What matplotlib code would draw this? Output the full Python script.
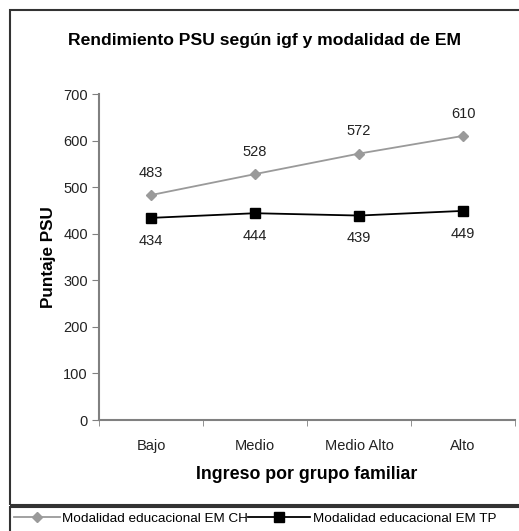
import matplotlib
matplotlib.use("Agg")
import matplotlib.pyplot as plt
from matplotlib.patches import Rectangle

plt.rcParams['font.family'] = ['Liberation Sans', 'DejaVu Sans']

# Data
categories = ["Bajo", "Medio", "Medio Alto", "Alto"]
em_ch = [483, 528, 572, 610]
em_tp = [434, 444, 439, 449]
series_names = ["Modalidad educacional EM CH", "Modalidad educacional EM TP"]

W, H = 519, 531
fig = plt.figure(figsize=(W / 100, H / 100), dpi=100)

# axes placed in pixel terms of the reference
ax = fig.add_axes([99 / W, 1 - 420 / H, (515 - 99) / W, (420 - 94) / H])

x = list(range(len(categories)))
ch_line, = ax.plot(x, em_ch, color="#9a9a9a", lw=1.3, marker="D", ms=5.5,
                   mfc="#9a9a9a", mec="#9a9a9a", label=series_names[0])
tp_line, = ax.plot(x, em_tp, color="black", lw=1.3, marker="s", ms=6.5,
                   mfc="black", mec="black", label=series_names[1])

for xi, v in zip(x, em_ch):
    ax.annotate(str(v), (xi, v), xytext=(0, 16), textcoords="offset points",
                ha="center", va="center", fontsize=10.5, color="#222222")
for xi, v in zip(x, em_tp):
    ax.annotate(str(v), (xi, v), xytext=(0, -16.5), textcoords="offset points",
                ha="center", va="center", fontsize=10.5, color="#222222")

ax.set_xlim(-0.5, len(categories) - 0.5)
ax.set_ylim(0, 700)
ax.set_yticks(range(0, 701, 100))
ax.set_xticks(x)
ax.set_xticklabels(categories, fontsize=10.5, color="#222222")
ax.set_xticks([i - 0.5 for i in range(len(categories) + 1)], minor=True)
ax.tick_params(axis="x", which="major", length=0, pad=14)
ax.tick_params(axis="x", which="minor", length=4, color="#808080", direction="out")
ax.tick_params(axis="y", length=5, color="#808080", labelsize=10.5,
               labelcolor="#222222", pad=3)

for s in ["top", "right"]:
    ax.spines[s].set_visible(False)
for s in ["left", "bottom"]:
    ax.spines[s].set_color("#808080")
    ax.spines[s].set_linewidth(1.5)

ax.set_xlabel("Ingreso por grupo familiar", fontsize=12.8, fontweight="bold", labelpad=9)
ax.set_ylabel("Puntaje PSU", fontsize=12.3, fontweight="bold", labelpad=5)

fig.text(265 / W, 1 - 40 / H, "Rendimiento PSU según igf y modalidad de EM",
         ha="center", va="center", fontsize=12.6, fontweight="bold")

# chart frame and legend box
fig.add_artist(Rectangle((10 / W, 1 - 505 / H), 530 / W, 495 / H,
                         transform=fig.transFigure, fill=False,
                         ec="#333333", lw=1.5, clip_on=False))
fig.add_artist(Rectangle((10 / W, -0.05), 530 / W, 0.05 + (531 - 507) / H,
                         transform=fig.transFigure, fill=False,
                         ec="#333333", lw=1.5, clip_on=False))

# legend entries: the second one has a longer handle in the reference
leg_kw = dict(loc="center left", frameon=False, borderpad=0, borderaxespad=0,
              handletextpad=0.2, fontsize=9.7)
fig.legend([ch_line], [series_names[0]], bbox_to_anchor=(14 / W, 1 - 519 / H),
           handlelength=3.4, **leg_kw)
fig.legend([tp_line], [series_names[1]], bbox_to_anchor=(248 / W, 1 - 519 / H),
           handlelength=4.6, **leg_kw)

fig.savefig("out.png", dpi=100)
